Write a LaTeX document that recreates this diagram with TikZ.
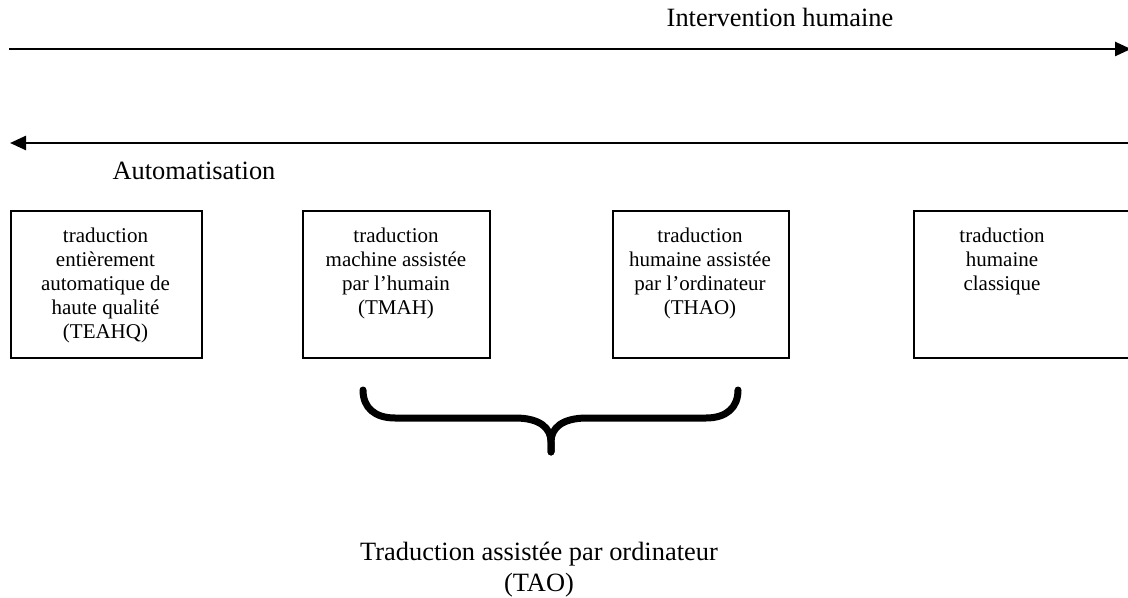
\documentclass[tikz,border=0pt]{standalone}
\usepackage{fontspec}
\setmainfont{Liberation Serif}
\usetikzlibrary{arrows.meta}
\begin{document}
\begin{tikzpicture}[x=0.5pt,y=-0.5pt,
  axis/.style={line width=1.25pt,-{Triangle[length=8pt,width=7pt]}},
  bigtext/.style={inner sep=0pt,font=\fontsize{13.2}{15.2}\selectfont},
  box/.style={draw,line width=1.2pt,anchor=north west,inner sep=0pt},
  boxtext/.style={inner sep=0pt,anchor=north,align=center,font=\fontsize{10.5}{12}\selectfont},
  brace/.style={line width=3.5pt,line cap=round}]
  \clip (0,0) rectangle (1128,598);
  \fill[white] (0,0) rectangle (1128,598);

  % scale of human intervention / automation
  \coordinate (ihL) at (9,49);
  \coordinate (ihR) at (1131,49);
  \coordinate (auR) at (1135,143);
  \coordinate (auL) at (10,143);
  \draw[axis] (ihL) -- (ihR);
  \draw[axis] (auR) -- (auL);
  \node[bigtext,anchor=base] (ih) at (780,27) {Intervention humaine};
  \node[bigtext,anchor=base] (au) at (194,180) {Automatisation};

  % the four kinds of translation
  \node[box,minimum width=95.5pt,minimum height=73.5pt] (b1) at (10,210) {};
  \node[box,minimum width=93.5pt,minimum height=73.5pt] (b2) at (302,210) {};
  \node[box,minimum width=88pt,minimum height=73.5pt] (b3) at (612,210) {};
  \node[box,minimum width=120pt,minimum height=73.5pt] (b4) at (913,210) {};

  \node[boxtext] (t1) at (105.5,227.5) {traduction\\entièrement\\automatique de\\haute qualité\\(TEAHQ)};
  \node[boxtext] (t2) at (396,227.5) {traduction\\machine assistée\\par l’humain\\(TMAH)};
  \node[boxtext] (t3) at (700,227.5) {traduction\\humaine assistée\\par l’ordinateur\\(THAO)};
  \node[boxtext] (t4) at (1002,227.5) {traduction\\humaine\\classique};

  % brace grouping TMAH and THAO
  \coordinate (tip) at (551,452);
  \draw[brace] (363,390) .. controls (363,408) and (375,418) .. (395,418)
    -- (515,418) .. controls (540,418) and (551,428) .. (551,442) -- (tip);
  \draw[brace] (738,390) .. controls (738,408) and (726,418) .. (706,418)
    -- (587,418) .. controls (562,418) and (551,428) .. (551,442) -- (tip);

  \node[bigtext,anchor=north,align=center] (tao) at (539,542)
    {Traduction assistée par ordinateur\\(TAO)};
\end{tikzpicture}
\end{document}
